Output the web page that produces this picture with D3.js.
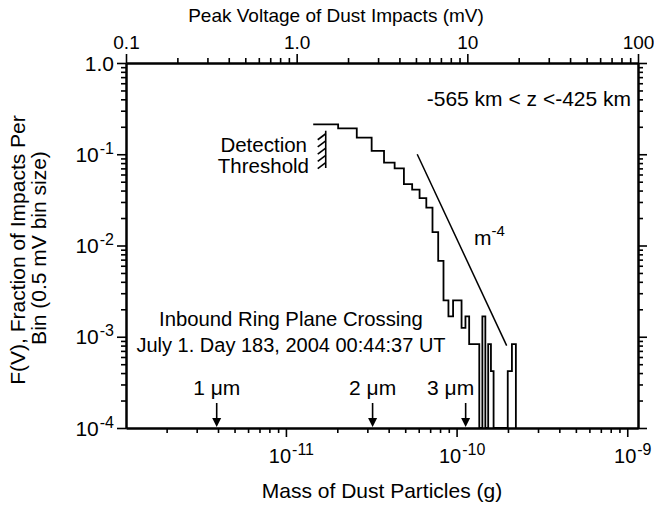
<!DOCTYPE html>
<html><head><meta charset="utf-8">
<script src="https://cdn.jsdelivr.net/npm/d3@7"></script>
<style>
body{margin:0;background:#fff}
svg{display:block}
text{font-family:"Liberation Sans",Arial,Helvetica,sans-serif;fill:#000}
</style>
</head><body>
<svg id="chart" width="654" height="506"></svg>
<script>
// ---------------- data ----------------
const binLowV = [1.25,1.75,2.25,2.75,3.25,3.75,4.25,4.75,5.25,5.75,6.25,6.75,7.25,7.75,8.25,8.75,9.25,9.75,
                 10.25,10.75,11.25,11.75,12.25,12.75,13.25,13.75,14.25,14.75,15.25,15.75,16.25,16.75,17.25,17.75,18.25,18.75];
const binWidthV = 0.5;
const fraction = [0.213,0.192,0.152,0.109,0.081,0.070,0.047,0.041,0.033,0.026,0.014,0.0068,0.0025,0.00167,0.0025,0.0025,0.00125,0.00167,
                  0.00083,0.00083,0.00083,0,0.00167,0,0.00083,0.00042,0,0,0,0,0,0,0.00042,0.00042,0.00083,0.00083];

const voltTicks = [0.1,1,10,100];
const voltTickLabels = ["0.1","1.0","10","100"];
const massTicks = [1e-11,1e-10,1e-9];
const massTickLabels = [["10","-11"],["10","-10"],["10","-9"]];
const fracTicks = [1,1e-1,1e-2,1e-3,1e-4];
const fracTickLabels = [["1.0",""],["10","-1"],["10","-2"],["10","-3"],["10","-4"]];

const sizeLabels = ["1 \u03bcm","2 \u03bcm","3 \u03bcm"];
const sizeMass = [3.93e-12,3.22e-11,1.13e-10];

const powerLawMass = [5.88e-11,1.965e-10];
const powerLawFrac = [0.1,8.0e-4];

const thresholdV = 1.48;
const thresholdFrac = [0.181,0.0707];

// ---------------- layout ----------------
const L=126,R=638,T=63,B=428;
const svg=d3.select("#chart");
const xV=d3.scaleLog().domain([0.1,100]).range([L,R]);
const xM=d3.scaleLog().domain([1.156e-12,1.156e-9]).range([L,R]);
const y=d3.scaleLog().domain([1e-4,1]).range([B,T]);

function minors(d0,d1){
  const out=[];
  for(let e=Math.floor(Math.log10(d0));e<=Math.ceil(Math.log10(d1));e++){
    for(let k=2;k<=9;k++){const v=k*Math.pow(10,e); if(v>d0*1.0001&&v<d1*0.9999) out.push(v);}
  }
  return out;
}
const MAJ=9,MIN=5;
function styleAxis(g){
  g.selectAll("path.domain").attr("stroke","#000").attr("stroke-width",2);
  g.selectAll(".tick line").attr("stroke","#000").attr("stroke-width",1.6);
}
// top axis (voltage)
svg.append("g").attr("transform",`translate(0,${T})`)
  .call(d3.axisTop(xV).tickValues(minors(0.1,100)).tickSize(MIN).tickSizeOuter(0).tickFormat(""))
  .call(styleAxis);
svg.append("g").attr("transform",`translate(0,${T})`)
  .call(d3.axisTop(xV).tickValues(voltTicks).tickSize(MAJ).tickSizeOuter(0).tickPadding(5)
        .tickFormat((d,i)=>voltTickLabels[i]))
  .call(styleAxis)
  .call(g=>g.selectAll("text").attr("font-size",19).attr("font-family",null));
// bottom axis (mass)
svg.append("g").attr("transform",`translate(0,${B})`)
  .call(d3.axisBottom(xM).tickValues(minors(1.156e-12,1.156e-9)).tickSize(MIN).tickSizeOuter(0).tickFormat(""))
  .call(styleAxis);
const bax=svg.append("g").attr("transform",`translate(0,${B})`)
  .call(d3.axisBottom(xM).tickValues(massTicks).tickSize(MAJ).tickSizeOuter(0).tickFormat(""))
  .call(styleAxis);
bax.selectAll(".tick").append("text")
  .attr("x",5).attr("y",35).attr("text-anchor","middle").attr("font-size",20)
  .each(function(d,i){
    const t=d3.select(this);
    t.append("tspan").text(massTickLabels[i][0]);
    t.append("tspan").attr("dy",-8).attr("dx",1).attr("font-size",16).text(massTickLabels[i][1]);
  });
// left axis
svg.append("g").attr("transform",`translate(${L},0)`)
  .call(d3.axisLeft(y).tickValues(minors(1e-4,1)).tickSize(MIN).tickSizeOuter(0).tickFormat(""))
  .call(styleAxis);
const lax=svg.append("g").attr("transform",`translate(${L},0)`)
  .call(d3.axisLeft(y).tickValues(fracTicks).tickSize(MAJ).tickSizeOuter(0).tickFormat(""))
  .call(styleAxis);
lax.selectAll(".tick").append("text")
  .attr("x",-12).attr("y",7).attr("text-anchor","end").attr("font-size",21)
  .each(function(d,i){
    const t=d3.select(this);
    t.append("tspan").text(fracTickLabels[i][0]);
    if(fracTickLabels[i][1]) t.append("tspan").attr("dy",-8).attr("dx",1).attr("font-size",16).text(fracTickLabels[i][1]);
  });
// right axis
svg.append("g").attr("transform",`translate(${R},0)`)
  .call(d3.axisRight(y).tickValues(minors(1e-4,1)).tickSize(MIN).tickSizeOuter(0).tickFormat(""))
  .call(styleAxis);
svg.append("g").attr("transform",`translate(${R},0)`)
  .call(d3.axisRight(y).tickValues(fracTicks).tickSize(MAJ).tickSizeOuter(0).tickFormat(""))
  .call(styleAxis);

// axis titles
svg.append("text").attr("x",336).attr("y",22).attr("text-anchor","middle").attr("font-size",19)
  .text("Peak Voltage of Dust Impacts (mV)");
svg.append("text").attr("x",(L+R)/2).attr("y",498).attr("text-anchor","middle").attr("font-size",21)
  .text("Mass of Dust Particles (g)");
svg.append("text").attr("transform","translate(25,250) rotate(-90)").attr("text-anchor","middle").attr("font-size",21)
  .text("F(V), Fraction of Impacts Per");
svg.append("text").attr("transform","translate(46,248) rotate(-90)").attr("text-anchor","middle").attr("font-size",21)
  .text("Bin (0.5 mV bin size)");

// histogram (step outline)
const yc=v=>v>1e-4?y(v):B;
let p=d3.path();
binLowV.forEach((v,i)=>{
  const x0=xV(v),x1=xV(v+binWidthV),yy=yc(fraction[i]);
  if(i===0) p.moveTo(x0,yy); else p.lineTo(x0,yy);
  p.lineTo(x1,yy);
});
p.lineTo(xV(binLowV[binLowV.length-1]+binWidthV),B);
svg.append("path").attr("d",p.toString()).attr("fill","none").attr("stroke","#000").attr("stroke-width",1.8);

// power law line
svg.append("line")
  .attr("x1",xM(powerLawMass[0])).attr("y1",y(powerLawFrac[0]))
  .attr("x2",xM(powerLawMass[1])).attr("y2",y(powerLawFrac[1]))
  .attr("stroke","#000").attr("stroke-width",1.5);
const ml=svg.append("text").attr("x",474).attr("y",245).attr("font-size",21);
ml.append("tspan").text("m");
ml.append("tspan").attr("dy",-9).attr("font-size",15).text("-4");

// detection threshold
const tx=xV(thresholdV),ty0=y(thresholdFrac[0]),ty1=y(thresholdFrac[1]);
svg.append("line").attr("x1",tx).attr("x2",tx).attr("y1",ty0).attr("y2",ty1).attr("stroke","#000").attr("stroke-width",1.6);
d3.range(5).forEach(k=>{
  const yy=ty0+3+k*7.2;
  svg.append("line").attr("x1",tx-8).attr("y1",yy+6).attr("x2",tx).attr("y2",yy).attr("stroke","#000").attr("stroke-width",1.6);
});
svg.append("text").attr("x",307).attr("y",152).attr("text-anchor","end").attr("font-size",20.5).text("Detection");
svg.append("text").attr("x",309).attr("y",173).attr("text-anchor","end").attr("font-size",20.5).text("Threshold");

// annotations
svg.append("text").attr("x",631).attr("y",106).attr("text-anchor","end").attr("font-size",21).text("-565 km < z <-425 km");
svg.append("text").attr("x",291).attr("y",326).attr("text-anchor","middle").attr("font-size",20.3).text("Inbound Ring Plane Crossing");
svg.append("text").attr("x",291).attr("y",352).attr("text-anchor","middle").attr("font-size",20).text("July 1. Day 183, 2004 00:44:37 UT");

// size arrows
const labelShift=[0,0,-15];
sizeMass.forEach((m,i)=>{
  const x=xM(m);
  svg.append("line").attr("x1",x).attr("x2",x).attr("y1",403).attr("y2",419).attr("stroke","#000").attr("stroke-width",1.6);
  svg.append("path").attr("d",`M${x-4.5},418 L${x+4.5},418 L${x},427 Z`).attr("fill","#000");
  svg.append("text").attr("x",x+labelShift[i]).attr("y",395).attr("text-anchor","middle").attr("font-size",21).text(sizeLabels[i]);
});
</script>
</body></html>
